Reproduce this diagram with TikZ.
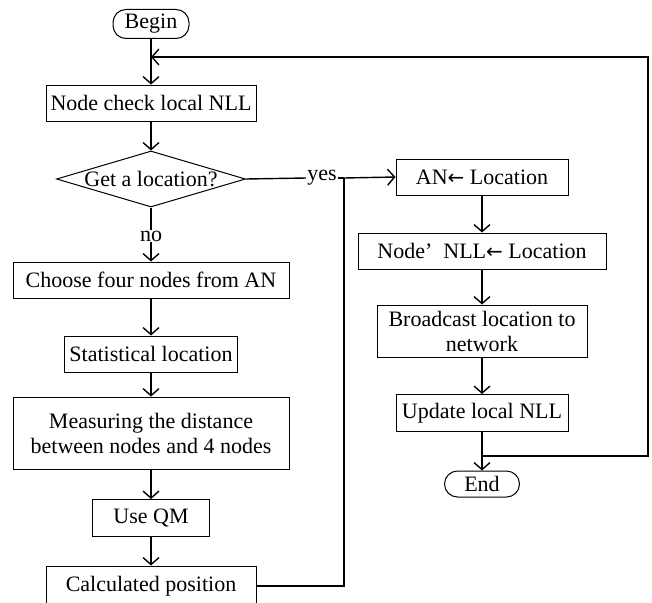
\documentclass[tikz,border=0pt]{standalone}
\usepackage{fontspec}
\setmainfont{Liberation Serif}
\newfontfamily\arrowfont{DejaVu Sans}
\usetikzlibrary{arrows.meta,shapes.geometric}
\newcommand{\larr}{{\arrowfont\fontsize{20}{20}\selectfont ←}}
\begin{document}
\begin{tikzpicture}[x=1pt,y=-1pt,
  every node/.style={font=\fontsize{22}{25}\selectfont},
  box/.style={draw,line width=1pt,rectangle,inner sep=0pt,align=center},
  term/.style={draw,line width=1pt,rectangle,rounded corners=13pt,inner sep=0pt},
  conn/.style={line width=1.4pt},
  arr/.style={conn,-{Straight Barb[length=7pt,width=16pt,line width=1.4pt]}},
  lbl/.style={inner sep=1pt,fill=white}]
\useasboundingbox (0,0) rectangle (652,602);
\clip (0,0) rectangle (652,602);
\fill[white] (0,0) rectangle (652,602);
% left column
\node[term,minimum width=76pt,minimum height=29pt] (begin) at (151,24) {Begin};
\node[box,minimum width=210pt,minimum height=36pt] (check) at (151,103) {Node check local NLL};
\node[draw,line width=1pt,diamond,minimum width=189pt,minimum height=56pt,inner sep=0pt] (dec) at (151,179) {};
\node at (dec.center) {Get a location?};
\node[lbl] (no) at (151,236) {no};
\node[box,minimum width=276pt,minimum height=36pt] (choose) at (151,280) {Choose four nodes from AN};
\node[box,minimum width=173pt,minimum height=36pt] (stat) at (151,354) {Statistical location};
\node[box,minimum width=276pt,minimum height=72pt] (meas) at (151,433) {Measuring the distance\\between nodes and 4 nodes};
\node[box,minimum width=117pt,minimum height=37pt] (qm) at (151,518) {Use QM};
\node[box,minimum width=210pt,minimum height=40pt] (calc) at (151,586) {Calculated position};
% right column
\node[box,minimum width=172pt,minimum height=36pt] (an) at (482,177) {AN\larr\ Location};
\node[box,minimum width=248pt,minimum height=36pt] (nll) at (482,251) {Node’\enspace NLL\larr\ Location};
\node[box,minimum width=210pt,minimum height=52pt] (bc) at (482,331) {Broadcast location to\\network};
\node[box,minimum width=172pt,minimum height=37pt] (upd) at (482,413) {Update local NLL};
\node[term,minimum width=75pt,minimum height=26pt] (end) at (482,484) {End};
\node[lbl] (yes) at (322,178) {yes};
% coordinates
\coordinate (fbin) at (151,57);
\coordinate (fbsplit) at (482,456);
\coordinate (fbcorner1) at (648,456);
\coordinate (fbcorner2) at (648,57);
\coordinate (vjoin) at (344,178);
\coordinate (vbot) at (344,586);
% connectors
\draw[arr] (begin.south) -- (check.north);
\draw[arr] (check.south) -- (dec.north);
\draw[conn] (dec.south) -- (no.north);
\draw[arr] (no.south) -- (choose.north);
\draw[arr] (choose.south) -- (stat.north);
\draw[arr] (stat.south) -- (meas.north);
\draw[arr] (meas.south) -- (qm.north);
\draw[arr] (qm.south) -- (calc.north);
\draw[conn] (dec.east) -- (yes.west);
\draw[conn] (yes.east) -- (vjoin);
\draw[arr] (vjoin) -- (an.west);
\draw[conn] (calc.east |- vbot) -- (vbot) -- (vjoin);
\draw[arr] (an.south) -- (nll.north);
\draw[arr] (nll.south) -- (bc.north);
\draw[arr] (bc.south) -- (upd.north);
\draw[arr] (upd.south) -- (end.north);
\draw[arr,line width=1.8pt] (fbsplit) -- (fbcorner1) -- (fbcorner2) -- (fbin);
\end{tikzpicture}
\end{document}
